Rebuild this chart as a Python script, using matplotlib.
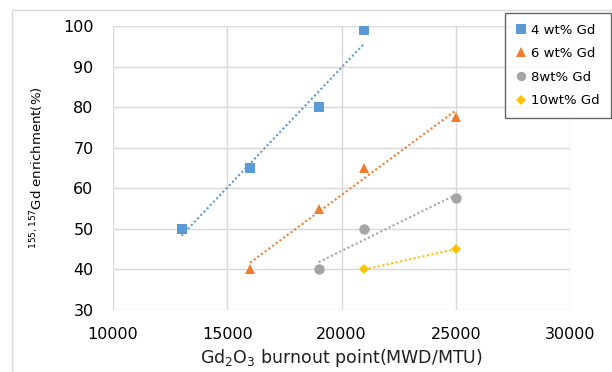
import numpy as np
import matplotlib
matplotlib.use("Agg")
import matplotlib.pyplot as plt
from matplotlib.patches import Rectangle

# Data
labels = ["4 wt% Gd", "6 wt% Gd", "8wt% Gd", "10wt% Gd"]
x_4 = [13000, 16000, 19000, 21000]
y_4 = [50, 65, 80, 99]
x_6 = [16000, 19000, 21000, 25000]
y_6 = [40, 55, 65, 77.5]
x_8 = [19000, 21000, 25000]
y_8 = [40, 50, 57.5]
x_10 = [21000, 25000]
y_10 = [40, 45]

colors = ["#5B9BD5", "#ED7D31", "#A5A5A5", "#FFC000"]
markers = ["s", "^", "o", "D"]
msizes = [7.5, 7.5, 7.5, 5.5]

fig = plt.figure(figsize=(6.12, 3.72), dpi=100)
ax = fig.add_axes([113/612, 1-310/372, (570-113)/612, (310-26)/372])

series = [(x_4, y_4), (x_6, y_6), (x_8, y_8), (x_10, y_10)]
for (xs, ys), c, m, ms, lab in zip(series, colors, markers, msizes, labels):
    xs = np.array(xs, float); ys = np.array(ys, float)
    p = np.polyfit(xs, ys, 1)
    xx = np.array([xs.min(), xs.max()])
    ax.plot(xx, np.polyval(p, xx), linestyle=(0, (1, 1.2)), color=c, lw=1.5, zorder=2)
    ax.plot(xs, ys, linestyle="none", marker=m, color=c, markersize=ms,
            markeredgewidth=0, label=lab, zorder=3)

ax.set_xlim(10000, 30000)
ax.set_ylim(30, 100)
ax.set_xticks(np.arange(10000, 30001, 5000))
ax.set_yticks(np.arange(30, 101, 10))
ax.grid(True, color="#D9D9D9", lw=1)
ax.set_axisbelow(True)
for s in ax.spines.values():
    s.set_visible(False)
ax.tick_params(length=0, labelsize=11.5, colors="#404040", pad=14)
ax.tick_params(axis="x", pad=12)
for t in ax.get_xticklabels() + ax.get_yticklabels():
    t.set_color("#000000")

ax.set_xlabel("Gd$_2$O$_3$ burnout point(MWD/MTU)", fontsize=12.5, labelpad=4,
              color="#202020")
ax.set_ylabel("$^{155,157}$Gd enrichment(%)", fontsize=9.5, labelpad=12)

leg = fig.legend(loc="upper left", bbox_to_anchor=(505/612, 1-13/372),
                 frameon=True, fancybox=False, fontsize=9.5, handlelength=0.9,
                 handletextpad=0.3, labelspacing=0.8, borderpad=0.8,
                 borderaxespad=0, markerscale=0.9)
leg.get_frame().set_edgecolor("#404040")
leg.get_frame().set_linewidth(1)

fig.patches.append(Rectangle((12/612, -0.1), 1.0, 1-10/372+0.1, transform=fig.transFigure,
                             fill=False, edgecolor="#D9D9D9", lw=1))

fig.savefig("out.png", dpi=100)
